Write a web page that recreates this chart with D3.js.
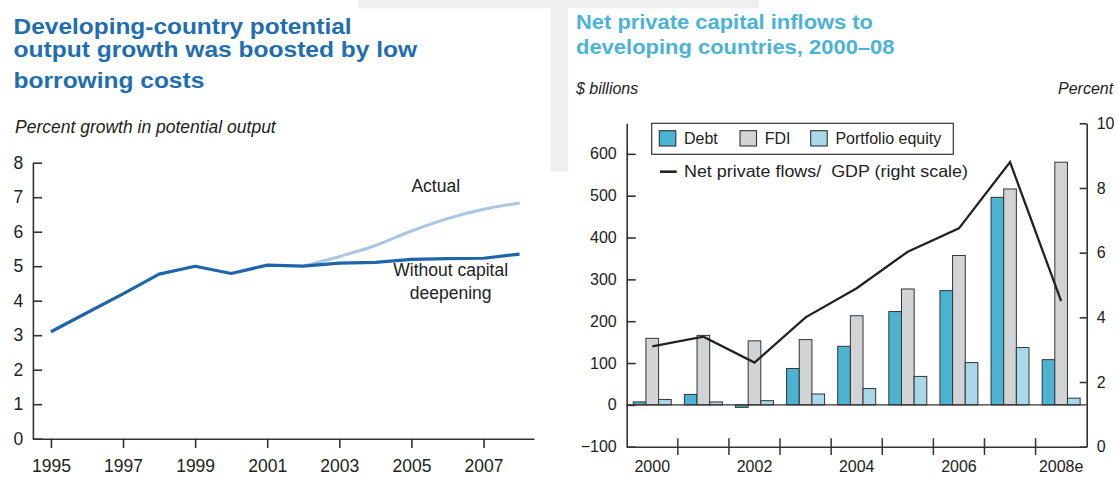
<!DOCTYPE html>
<html>
<head>
<meta charset="utf-8">
<script src="https://cdn.jsdelivr.net/npm/d3@7"></script>
<style>
  body { margin: 0; background: #fff; }
  svg { display: block; font-family: "Liberation Sans", Arial, sans-serif; }
</style>
</head>
<body>
<svg id="chart" width="1118" height="477"></svg>
<script>
// left panel: potential output growth, percent
var years = [1995, 1996, 1997, 1998, 1999, 2000, 2001, 2002, 2003, 2004, 2005, 2006, 2007, 2008];
var withoutDeepening = [3.1, 3.65, 4.2, 4.77, 5.0, 4.79, 5.03, 5.0, 5.09, 5.11, 5.2, 5.22, 5.23, 5.35];
var actual = [null, null, null, null, null, null, null, 5.0, 5.28, 5.6, 6.02, 6.38, 6.65, 6.83];
var yearTicks = [1995, 1997, 1999, 2001, 2003, 2005, 2007];
var growthTicks = [0, 1, 2, 3, 4, 5, 6, 7, 8];

// right panel: net private capital inflows, $ billions
var flowYears = ["2000", "2001", "2002", "2003", "2004", "2005", "2006", "2007", "2008e"];
var debt = [7, 25, -6, 87, 140, 223, 273, 496, 108];
var fdi = [159, 166, 153, 156, 213, 277, 357, 516, 580];
var portfolio = [13, 7, 10, 26, 39, 68, 101, 137, 16];
var flowsToGdp = [3.1, 3.4, 2.6, 4.0, 4.9, 6.03, 6.75, 8.8, 4.5];
var billionTicks = [-100, 0, 100, 200, 300, 400, 500, 600];
var percentTicks = [0, 2, 4, 6, 8, 10];

var svg = d3.select("#chart");

// faint scanned backdrop between the panels
svg.append("rect").attr("x", 358).attr("y", 0).attr("width", 401).attr("height", 8.3).attr("fill", "#efefef");
svg.append("rect").attr("x", 550.7).attr("y", 0).attr("width", 17.6).attr("height", 171.7).attr("fill", "#efefef");

// ---------- left panel ----------
var left = svg.append("g");

var titleL = [["Developing-country potential", 34, 338], ["output growth was boosted by low", 57.3, 403.6], ["borrowing costs", 87.7, 190.7]];
left.selectAll(".titleL")
    .data(titleL)
  .enter().append("text")
    .attr("x", 13.6)
    .attr("y", function(d){ return d[1]; })
    .attr("textLength", function(d){ return d[2]; })
    .attr("lengthAdjust", "spacingAndGlyphs")
    .style("font-size", "22px")
    .style("font-weight", "bold")
    .style("fill", "#1f6eb0")
    .text(function(d){ return d[0]; });

left.append("text")
    .attr("x", 15).attr("y", 133.3)
    .style("font-size", "17.5px").style("font-style", "italic").style("fill", "#222")
    .text("Percent growth in potential output");

var x = d3.scaleLinear().domain([1994.5, 2008.4]).range([32.9, 534]);
var y = d3.scaleLinear().domain([0, 8]).range([438.7, 162.7]);

var yAxisL = left.append("g")
    .attr("transform", "translate(32.9,0)")
    .call(d3.axisLeft(y).tickValues(growthTicks).tickSize(-9.3).tickPadding(9.7).tickSizeOuter(0));
var xAxisL = left.append("g")
    .attr("transform", "translate(0,438.7)")
    .call(d3.axisBottom(x).tickValues(yearTicks).tickFormat(d3.format("d")).tickSize(9.3).tickPadding(12).tickSizeOuter(0));
[yAxisL, xAxisL].forEach(function(g){
  g.selectAll("path,line").attr("stroke", "#333").attr("stroke-width", 1.6);
  g.selectAll("text").style("font-size", "17.5px").style("fill", "#222").style("font-family", "inherit");
});

var pts = years.map(function(yr, i){ return {year: yr, actual: actual[i], without: withoutDeepening[i]}; });

left.append("path")
    .datum(pts)
    .attr("fill", "none")
    .attr("stroke", "#a9c6e4")
    .attr("stroke-width", 3)
    .attr("d", d3.line()
        .defined(function(d){ return d.actual != null; })
        .curve(d3.curveMonotoneX)
        .x(function(d){ return x(d.year); })
        .y(function(d){ return y(d.actual); }));

left.append("path")
    .datum(pts)
    .attr("fill", "none")
    .attr("stroke", "#1f65a9")
    .attr("stroke-width", 3.2)
    .attr("stroke-linejoin", "round")
    .attr("d", d3.line()
        .x(function(d){ return x(d.year); })
        .y(function(d){ return y(d.without); }));

left.append("text").attr("x", 411.4).attr("y", 191.7)
    .style("font-size", "17.5px").style("fill", "#222").text("Actual");
left.append("text").attr("x", 450.7).attr("y", 276).attr("text-anchor", "middle")
    .style("font-size", "17.5px").style("fill", "#222").text("Without capital");
left.append("text").attr("x", 450.7).attr("y", 299.3).attr("text-anchor", "middle")
    .style("font-size", "17.5px").style("fill", "#222").text("deepening");

// ---------- right panel ----------
var right = svg.append("g");

var titleR = [["Net private capital inflows to", 29, 297], ["developing countries, 2000\u201308", 54.3, 318.5]];
right.selectAll(".titleR")
    .data(titleR)
  .enter().append("text")
    .attr("x", 576)
    .attr("y", function(d){ return d[1]; })
    .attr("textLength", function(d){ return d[2]; })
    .attr("lengthAdjust", "spacingAndGlyphs")
    .style("font-size", "20px")
    .style("font-weight", "bold")
    .style("fill", "#4bb3d6")
    .text(function(d){ return d[0]; });

right.append("text").attr("x", 576).attr("y", 94)
    .style("font-size", "16px").style("font-style", "italic").style("fill", "#222").text("$ billions");
right.append("text").attr("x", 1058).attr("y", 94)
    .style("font-size", "16px").style("font-style", "italic").style("fill", "#222").text("Percent");

var xb = d3.scaleBand().domain(flowYears).range([626.7, 1086.7]);
var seriesKeys = ["Debt", "FDI", "Portfolio equity"];
var seriesColors = ["#4bb4d3", "#d2d3d5", "#a9d8e8"];
var inner = d3.scaleBand().domain(seriesKeys).range([0, xb.bandwidth()]).paddingOuter(0.52);
var yL = d3.scaleLinear().domain([-100, 673]).range([446.7, 123.3]);
var yR = d3.scaleLinear().domain([0, 10]).range([446.7, 123.3]);

var series = [debt, fdi, portfolio].map(function(vals, k){
  return vals.map(function(v, i){ return {key: seriesKeys[k], cat: flowYears[i], value: v, color: seriesColors[k]}; });
});

var groups = right.selectAll(".series")
    .data(series)
  .enter().append("g")
    .attr("class", "series");

groups.selectAll("rect")
    .data(function(d){ return d; })
  .enter().append("rect")
    .attr("x", function(d){ return xb(d.cat) + inner(d.key); })
    .attr("y", function(d){ return yL(Math.max(0, d.value)); })
    .attr("width", inner.bandwidth())
    .attr("height", function(d){ return Math.abs(yL(d.value) - yL(0)); })
    .attr("fill", function(d){ return d.color; })
    .attr("stroke", "#333")
    .attr("stroke-width", 1);

right.append("line")
    .attr("x1", xb.range()[0]).attr("x2", xb.range()[1])
    .attr("y1", yL(0)).attr("y2", yL(0))
    .attr("stroke", "#333").attr("stroke-width", 1.4);

right.append("path")
    .datum(flowsToGdp)
    .attr("fill", "none")
    .attr("stroke", "#222")
    .attr("stroke-width", 2.3)
    .attr("d", d3.line()
        .x(function(d, i){ return xb(flowYears[i]) + xb.bandwidth() / 2; })
        .y(function(d){ return yR(d); }));

var yAxisBL = right.append("g")
    .attr("transform", "translate(626.7,0)")
    .call(d3.axisLeft(yL).tickValues(billionTicks).tickSize(-9).tickPadding(10).tickSizeOuter(0));
var yAxisBR = right.append("g")
    .attr("transform", "translate(1086.7,0)")
    .call(d3.axisRight(yR).tickValues(percentTicks).tickSize(-7).tickPadding(10).tickSizeOuter(0));
var xAxisB = right.append("g")
    .attr("transform", "translate(0," + yL(-100) + ")")
    .call(d3.axisBottom(xb)
        .tickFormat(function(d, i){ return i % 2 === 0 ? d : ""; })
        .tickSize(0).tickPadding(14).tickSizeOuter(0));
[yAxisBL, yAxisBR, xAxisB].forEach(function(g){
  g.selectAll("path,line").attr("stroke", "#333").attr("stroke-width", 1.6);
  g.selectAll("text").style("font-size", "16px").style("fill", "#222").style("font-family", "inherit");
});

// year separators crossing the bottom axis
right.selectAll(".sep")
    .data(flowYears.slice(1))
  .enter().append("line")
    .attr("x1", function(d){ return xb(d); })
    .attr("x2", function(d){ return xb(d); })
    .attr("y1", yL(-100) - 8.5)
    .attr("y2", yL(-100) + 8.3)
    .attr("stroke", "#333")
    .attr("stroke-width", 1.5);

// legend
right.append("rect")
    .attr("x", 651.7).attr("y", 123.3).attr("width", 301.6).attr("height", 31)
    .attr("fill", "#fff").attr("stroke", "#333").attr("stroke-width", 1.2);

var legendX = [659.3, 740, 810.7];
var li = right.selectAll(".legend")
    .data(seriesKeys)
  .enter().append("g")
    .attr("class", "legend")
    .attr("transform", function(d, i){ return "translate(" + legendX[i] + ",130.7)"; });
li.append("rect")
    .attr("width", 16.5).attr("height", 15.3)
    .attr("fill", function(d, i){ return seriesColors[i]; })
    .attr("stroke", "#333").attr("stroke-width", 1.1);
li.append("text")
    .attr("x", 24.7).attr("y", 13.2)
    .style("font-size", "16px").style("fill", "#222")
    .text(function(d){ return d; });

right.append("line")
    .attr("x1", 660).attr("x2", 676.7).attr("y1", 171.7).attr("y2", 171.7)
    .attr("stroke", "#222").attr("stroke-width", 2.6);
right.append("text")
    .attr("x", 684).attr("y", 177.3)
    .attr("textLength", 284)
    .attr("lengthAdjust", "spacingAndGlyphs")
    .style("font-size", "16.5px").style("fill", "#222").style("white-space", "pre")
    .text("Net private flows/  GDP (right scale)");
</script>
</body>
</html>
